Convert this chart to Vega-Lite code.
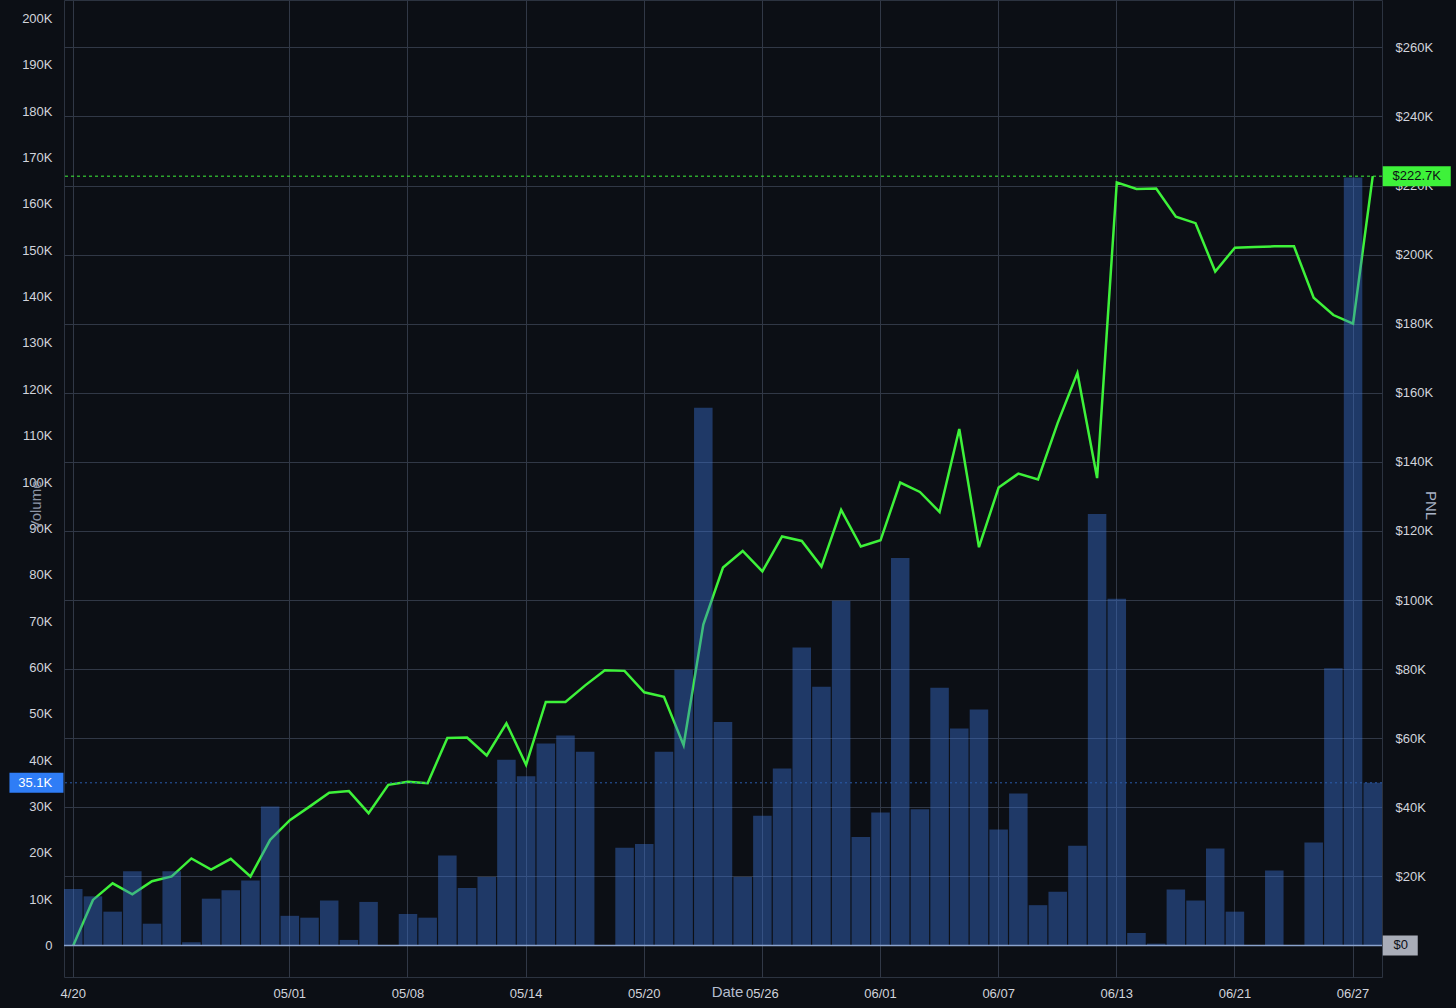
{
  "$schema": "https://vega.github.io/schema/vega-lite/v6.json",
  "width": 1318,
  "height": 977,
  "autosize": {"type": "none"},
  "padding": {"left": 64, "top": 0, "right": 74, "bottom": 31},
  "background": "#0c0f15",
  "config": {
    "view": {"stroke": "#2c3340", "fill": "#0c0f15"},
    "axis": {
      "labelFont": "Liberation Sans",
      "labelFontSize": 13,
      "labelColor": "#d1d4dc",
      "titleFont": "Liberation Sans",
      "titleFontWeight": "normal",
      "gridColor": "#313846",
      "gridWidth": 1,
      "ticks": false,
      "domain": false
    }
  },
  "data": {
    "values": [
      {"d": "04/20", "vol": 12200, "pnl": 0},
      {"d": "04/21", "vol": 10600, "pnl": 13200},
      {"d": "04/22", "vol": 7300, "pnl": 18000},
      {"d": "04/23", "vol": 16000, "pnl": 14800},
      {"d": "04/24", "vol": 4700, "pnl": 18600},
      {"d": "04/25", "vol": 16000, "pnl": 20000},
      {"d": "04/26", "vol": 700, "pnl": 25200},
      {"d": "04/27", "vol": 10100, "pnl": 22000},
      {"d": "04/28", "vol": 11900, "pnl": 25100},
      {"d": "04/29", "vol": 14000, "pnl": 20000},
      {"d": "04/30", "vol": 30000, "pnl": 30600},
      {"d": "05/01", "vol": 6400, "pnl": 36300},
      {"d": "05/02", "vol": 6000, "pnl": 40200},
      {"d": "05/03", "vol": 9700, "pnl": 44200},
      {"d": "05/04", "vol": 1200, "pnl": 44700},
      {"d": "05/05", "vol": 9400, "pnl": 38300},
      {"d": "05/06", "vol": 0, "pnl": 46500},
      {"d": "05/08", "vol": 6800, "pnl": 47400},
      {"d": "05/09", "vol": 6000, "pnl": 47000},
      {"d": "05/10", "vol": 19400, "pnl": 60100},
      {"d": "05/11", "vol": 12400, "pnl": 60200},
      {"d": "05/12", "vol": 14800, "pnl": 55000},
      {"d": "05/13", "vol": 40100, "pnl": 64300},
      {"d": "05/14", "vol": 36500, "pnl": 52300},
      {"d": "05/15", "vol": 43600, "pnl": 70500},
      {"d": "05/16", "vol": 45300, "pnl": 70500},
      {"d": "05/17", "vol": 41800, "pnl": 75300},
      {"d": "05/18", "vol": 0, "pnl": 79700},
      {"d": "05/19", "vol": 21100, "pnl": 79500},
      {"d": "05/20", "vol": 21900, "pnl": 73300},
      {"d": "05/21", "vol": 41800, "pnl": 72000},
      {"d": "05/22", "vol": 59500, "pnl": 58000},
      {"d": "05/23", "vol": 116000, "pnl": 92900},
      {"d": "05/24", "vol": 48200, "pnl": 109400},
      {"d": "05/25", "vol": 14800, "pnl": 114200},
      {"d": "05/26", "vol": 28000, "pnl": 108300},
      {"d": "05/27", "vol": 38200, "pnl": 118400},
      {"d": "05/28", "vol": 64300, "pnl": 117100},
      {"d": "05/29", "vol": 55800, "pnl": 109700},
      {"d": "05/30", "vol": 74400, "pnl": 126100},
      {"d": "05/31", "vol": 23400, "pnl": 115500},
      {"d": "06/01", "vol": 28700, "pnl": 117300},
      {"d": "06/02", "vol": 83600, "pnl": 134000},
      {"d": "06/03", "vol": 29400, "pnl": 131300},
      {"d": "06/04", "vol": 55600, "pnl": 125500},
      {"d": "06/05", "vol": 46800, "pnl": 149500},
      {"d": "06/06", "vol": 50900, "pnl": 115300},
      {"d": "06/07", "vol": 25000, "pnl": 132600},
      {"d": "06/08", "vol": 32800, "pnl": 136600},
      {"d": "06/09", "vol": 8700, "pnl": 134900},
      {"d": "06/10", "vol": 11600, "pnl": 151300},
      {"d": "06/11", "vol": 21500, "pnl": 165700},
      {"d": "06/12", "vol": 93100, "pnl": 135300},
      {"d": "06/13", "vol": 74800, "pnl": 220900},
      {"d": "06/14", "vol": 2700, "pnl": 219000},
      {"d": "06/15", "vol": 400, "pnl": 219100},
      {"d": "06/16", "vol": 12100, "pnl": 211000},
      {"d": "06/19", "vol": 9700, "pnl": 209100},
      {"d": "06/20", "vol": 20900, "pnl": 195100},
      {"d": "06/21", "vol": 7300, "pnl": 202000},
      {"d": "06/22", "vol": 0, "pnl": 202200},
      {"d": "06/23", "vol": 16200, "pnl": 202400},
      {"d": "06/24", "vol": 0, "pnl": 202400},
      {"d": "06/25", "vol": 22200, "pnl": 187500},
      {"d": "06/26", "vol": 59800, "pnl": 182500},
      {"d": "06/27", "vol": 165700, "pnl": 180000},
      {"d": "06/28", "vol": 35100, "pnl": 222700}
    ]
  },
  "layer": [
    {
      "layer": [
        {
          "mark": {"type": "line", "color": "#3ef23a", "strokeWidth": 2.5},
          "encoding": {
            "x": {"field": "d", "type": "ordinal"},
            "y": {
              "field": "pnl", "type": "quantitative",
              "scale": {"domain": [-9120, 273700], "nice": false, "zero": false},
              "axis": {
                "orient": "right",
                "values": [0, 20000, 40000, 60000, 80000, 100000, 120000, 140000, 160000, 180000, 200000, 220000, 240000, 260000],
                "labelExpr": "datum.value == 0 ? '' : '$' + (datum.value / 1000) + 'K'",
                "labelPadding": 13,
                "grid": true,
                "title": "PNL",
                "titleX": 48,
                "titleY": 505,
                "titleAngle": 90,
                "titleAlign": "center",
                "titleBaseline": "middle",
                "titleFontSize": 15,
                "titleColor": "#a9b3c6"
              }
            }
          }
        },
        {
          "data": {"values": [{}]},
          "mark": {"type": "rule", "color": "#3ef23a", "strokeDash": [3, 3], "strokeWidth": 1},
          "encoding": {"y": {"datum": 222700, "type": "quantitative"}}
        },
        {
          "data": {"values": [{}]},
          "mark": {"type": "point", "shape": "M1,-1H7.8V1H1Z", "size": 400, "filled": true, "color": "#3ef23a", "opacity": 1, "strokeWidth": 0},
          "encoding": {
            "x": {"datum": "06/28", "type": "ordinal"},
            "y": {"datum": 222700, "type": "quantitative"}
          }
        },
        {
          "data": {"values": [{}]},
          "mark": {"type": "text", "text": "$222.7K", "font": "Liberation Sans", "fontSize": 13, "color": "#0c0f15", "dx": 44, "align": "center", "baseline": "middle"},
          "encoding": {
            "x": {"datum": "06/28", "type": "ordinal"},
            "y": {"datum": 222700, "type": "quantitative"}
          }
        }
      ]
    },
    {
      "layer": [
        {
          "mark": {"type": "bar", "color": "#3b74d8", "opacity": 0.42},
          "encoding": {
            "x": {
              "field": "d", "type": "ordinal",
              "scale": {"paddingInner": 0.06, "paddingOuter": 0},
              "axis": {
                "orient": "bottom",
                "values": ["04/20", "05/01", "05/08", "05/14", "05/20", "05/26", "06/01", "06/07", "06/13", "06/21", "06/27"],
                "labelExpr": "datum.value == '04/20' ? '4/20' : datum.value",
                "labelAngle": 0,
                "labelAlign": "center",
                "labelPadding": 16,
                "grid": true,
                "bandPosition": 0.5,
                "title": "Date",
                "titleX": 663,
                "titleY": 14.5,
                "titleBaseline": "middle",
                "titleAlign": "center",
                "titleAngle": 0,
                "titleFontSize": 15,
                "titleColor": "#b4bdcf"
              }
            },
            "y": {
              "field": "vol", "type": "quantitative",
              "scale": {"domain": [-6800, 204000], "nice": false, "zero": false},
              "axis": {
                "orient": "left",
                "values": [0, 10000, 20000, 30000, 40000, 50000, 60000, 70000, 80000, 90000, 100000, 110000, 120000, 130000, 140000, 150000, 160000, 170000, 180000, 190000, 200000],
                "labelExpr": "datum.value == 0 ? '0' : (datum.value / 1000) + 'K'",
                "labelPadding": 12,
                "grid": false,
                "title": "Volume",
                "titleX": -29,
                "titleY": 505,
                "titleAngle": -90,
                "titleAlign": "center",
                "titleBaseline": "middle",
                "titleFontSize": 15,
                "titleColor": "#8d96a7"
              }
            },
            "y2": {"datum": 0}
          }
        },
        {
          "data": {"values": [{}]},
          "mark": {"type": "rule", "color": "#8aa2cc", "strokeWidth": 1.5},
          "encoding": {"y": {"datum": 0, "type": "quantitative"}}
        },
        {
          "data": {"values": [{}]},
          "mark": {"type": "rule", "color": "#2b5cad", "strokeDash": [2, 3], "strokeWidth": 1},
          "encoding": {"y": {"datum": 35100, "type": "quantitative"}}
        },
        {
          "data": {"values": [{}]},
          "mark": {"type": "point", "shape": "M-6.38,-1H-0.98V1H-6.38Z", "size": 400, "filled": true, "color": "#2f7df6", "opacity": 1, "strokeWidth": 0},
          "encoding": {
            "x": {"datum": "04/20", "type": "ordinal"},
            "y": {"datum": 35100, "type": "quantitative"}
          }
        },
        {
          "data": {"values": [{}]},
          "mark": {"type": "text", "text": "35.1K", "font": "Liberation Sans", "fontSize": 13, "color": "#ffffff", "dx": -38, "align": "center", "baseline": "middle"},
          "encoding": {
            "x": {"datum": "04/20", "type": "ordinal"},
            "y": {"datum": 35100, "type": "quantitative"}
          }
        },
        {
          "data": {"values": [{}]},
          "mark": {"type": "point", "shape": "M1,-1H4.5V1H1Z", "size": 400, "filled": true, "color": "#a9adb8", "opacity": 1, "strokeWidth": 0},
          "encoding": {
            "x": {"datum": "06/28", "type": "ordinal"},
            "y": {"datum": 0, "type": "quantitative"}
          }
        },
        {
          "data": {"values": [{}]},
          "mark": {"type": "text", "text": "$0", "font": "Liberation Sans", "fontSize": 13, "color": "#0c0f15", "dx": 28, "align": "center", "baseline": "middle"},
          "encoding": {
            "x": {"datum": "06/28", "type": "ordinal"},
            "y": {"datum": 0, "type": "quantitative"}
          }
        }
      ]
    }
  ],
  "resolve": {"scale": {"y": "independent"}}
}
